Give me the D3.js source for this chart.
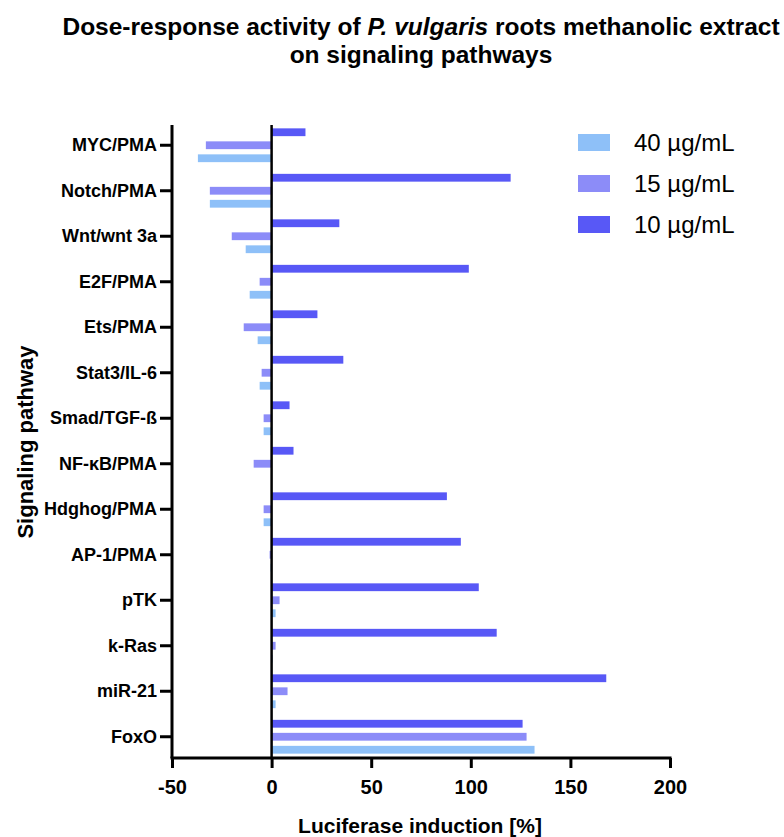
<!DOCTYPE html>
<html><head><meta charset="utf-8">
<script src="https://cdn.jsdelivr.net/npm/d3@7"></script>
<style>body{margin:0;background:#fff;} text{font-family:"Liberation Sans",Arial,sans-serif;}</style>
</head><body>
<svg id="c" width="784" height="837"></svg>
<script>
const categories = ["MYC/PMA","Notch/PMA","Wnt/wnt 3a","E2F/PMA","Ets/PMA","Stat3/IL-6","Smad/TGF-ß","NF-κB/PMA","Hdghog/PMA","AP-1/PMA","pTK","k-Ras","miR-21","FoxO"];
const seriesNames = ["10 µg/mL","15 µg/mL","40 µg/mL"];
const s10 = [17,120,34,99,23,36,9,11,88,95,104,113,168,126];
const s15 = [-33,-31,-20,-6,-14,-5,-4,-9,-4,-1,4,2,8,128];
const s40 = [-37,-31,-13,-11,-7,-6,-4,0,-4,-0.5,2,0.5,2,132];
const xTicks = [-50,0,50,100,150,200];
const legendOrder = ["40 µg/mL","15 µg/mL","10 µg/mL"];
const colors = {"10 µg/mL":"#5858f6","15 µg/mL":"#8c8cf8","40 µg/mL":"#8ec0f8"};
const values = {"10 µg/mL":s10,"15 µg/mL":s15,"40 µg/mL":s40};

const svg = d3.select("#c");
const L=172, R=670, T=125, B=758;
const x = d3.scaleLinear().domain([-50,200]).range([L,R]);
const y = d3.scaleBand().domain(categories).range([122.5,759.5]);
const sub = d3.scaleBand().domain(seriesNames).range([0,y.bandwidth()]).paddingInner(0.4).paddingOuter(0.45);

// bars
seriesNames.forEach(s=>{
  svg.append("g").selectAll("rect").data(categories).join("rect")
    .attr("x",(c,i)=>x(Math.min(0,values[s][i])))
    .attr("width",(c,i)=>Math.abs(x(values[s][i])-x(0)))
    .attr("y",c=>y(c)+sub(s))
    .attr("height",sub.bandwidth())
    .attr("fill",colors[s]);
});

// zero line
svg.append("line").attr("x1",x(0)).attr("x2",x(0)).attr("y1",T).attr("y2",B).attr("stroke","#000").attr("stroke-width",2.5);

// x axis
const xa = svg.append("g").attr("transform",`translate(0,${B})`)
  .call(d3.axisBottom(x).tickValues(xTicks).tickSize(10).tickPadding(12).tickFormat(d=>String(d)));
xa.select(".domain").attr("stroke","#000").attr("stroke-width",3).attr("d",`M${L-1.5},0H${R+1.5}`);
xa.selectAll(".tick line").attr("stroke","#000").attr("stroke-width",3);
xa.selectAll(".tick text").attr("font-size",20).attr("font-weight","bold").attr("fill","#000").attr("font-family","Liberation Sans, Arial, sans-serif");

// y axis
const ya = svg.append("g").attr("transform",`translate(${L},0)`)
  .call(d3.axisLeft(y).tickSize(12).tickPadding(3));
ya.select(".domain").attr("stroke","#000").attr("stroke-width",3).attr("d",`M0,${T}V${B}`);
ya.selectAll(".tick line").attr("stroke","#000").attr("stroke-width",3);
ya.selectAll(".tick text").attr("font-size",18).attr("font-weight","bold").attr("fill","#000").attr("font-family","Liberation Sans, Arial, sans-serif");

// titles
const title = svg.append("text").attr("x",421).attr("y",35).attr("text-anchor","middle").attr("font-size",24.5).attr("font-weight","bold");
title.append("tspan").text("Dose-response activity of ");
title.append("tspan").attr("font-style","italic").text("P. vulgaris");
title.append("tspan").text(" roots methanolic extract");
svg.append("text").attr("x",421).attr("y",63).attr("text-anchor","middle").attr("font-size",24.5).attr("font-weight","bold").text("on signaling pathways");

svg.append("text").attr("x",420).attr("y",833).attr("text-anchor","middle").attr("font-size",21).attr("font-weight","bold").text("Luciferase induction [%]");
svg.append("text").attr("transform","translate(33,442) rotate(-90)").attr("text-anchor","middle").attr("font-size",22).attr("font-weight","bold").text("Signaling pathway");

// legend
const lg = svg.append("g");
legendOrder.forEach((s,i)=>{
  lg.append("rect").attr("x",578).attr("y",134+i*41).attr("width",32).attr("height",17).attr("fill",colors[s]);
  lg.append("text").attr("x",634).attr("y",151+i*41).attr("font-size",24).attr("fill","#000").text(s);
});
</script>
</body></html>
